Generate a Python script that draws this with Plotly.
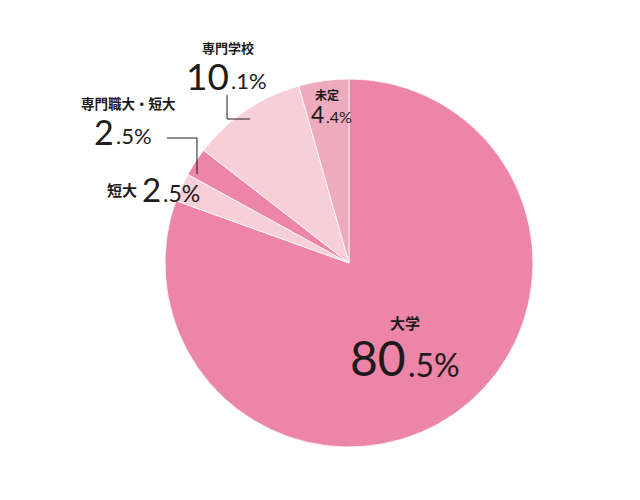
import plotly.graph_objects as go

labels = ['大学', '短大', '専門職大・短大', '専門学校', '未定']
values = [80.5, 2.5, 2.5, 10.1, 4.4]
colors = ['#EC85A8', '#F6CFD7', '#EC85A8', '#F6CFD7', '#EFABBE']

W, H = 640, 500
OFF = 8  # page body margin
cx, cy, r = 349, 263, 184

num_font = 'Lato, Noto Sans, sans-serif'
jp_font = 'Noto Sans CJK JP'
ink = '#1e1a19'


def px(x, y):
    return (x - OFF) / W, 1 - (y - OFF) / H


fig = go.Figure()
x0, y1 = px(cx - r, cy - r)
x1, y0 = px(cx + r, cy + r)
fig.add_trace(go.Pie(
    labels=labels, values=values, sort=False, direction='clockwise', rotation=0,
    marker=dict(colors=colors, line=dict(color='white', width=0.8)),
    textinfo='none', hoverinfo='label+percent', showlegend=False,
    domain=dict(x=[x0, x1], y=[y0, y1]),
))


def text_at(x, y, text, family, size, xanchor='center'):
    ax, ay = px(x, y)
    fig.add_annotation(x=ax, y=ay, xref='paper', yref='paper', text=text, showarrow=False,
                       xanchor=xanchor, yanchor='middle',
                       font=dict(family=family, size=size, color=ink))


# index, label (x, y, size), split x, big (y, size), small (y, size)
placements = [
    (0, (405, 322, 15), 407, (357, 48), (364, 32)),
    (3, (228, 48, 13), 230, (75, 37), (80, 22)),
    (4, (327, 95, 12), 325, (114, 23), (117, 16)),
    (2, (128, 103, 13.5), 115, (131, 34), (135, 22)),
    (1, (122, 189, 15), 162, (189, 33), (193, 23)),
]

for i, (lx, ly, ls), sx, (by, bs), (sy, ss) in placements:
    text_at(lx, ly, f'<b>{labels[i]}</b>', jp_font, ls)
    whole, dec = f'{values[i]:.1f}'.split('.')
    text_at(sx + 1, by, whole, num_font, bs, 'right')
    text_at(sx - 1, sy, f'.{dec}%', num_font, ss, 'left')

# leader lines
leaders = [
    [(227, 95), (227, 119), (250, 119)],
    [(167, 138), (197, 138), (197, 174)],
]
for pts in leaders:
    path = 'M ' + ' L '.join(f'{px(a, b)[0]:.4f},{px(a, b)[1]:.4f}' for a, b in pts)
    fig.add_shape(type='path', path=path, xref='paper', yref='paper',
                  line=dict(color=ink, width=1))

fig.update_layout(width=W, height=H, margin=dict(l=0, r=0, t=0, b=0),
                  paper_bgcolor='white', plot_bgcolor='white')
fig.write_html('out.html')
